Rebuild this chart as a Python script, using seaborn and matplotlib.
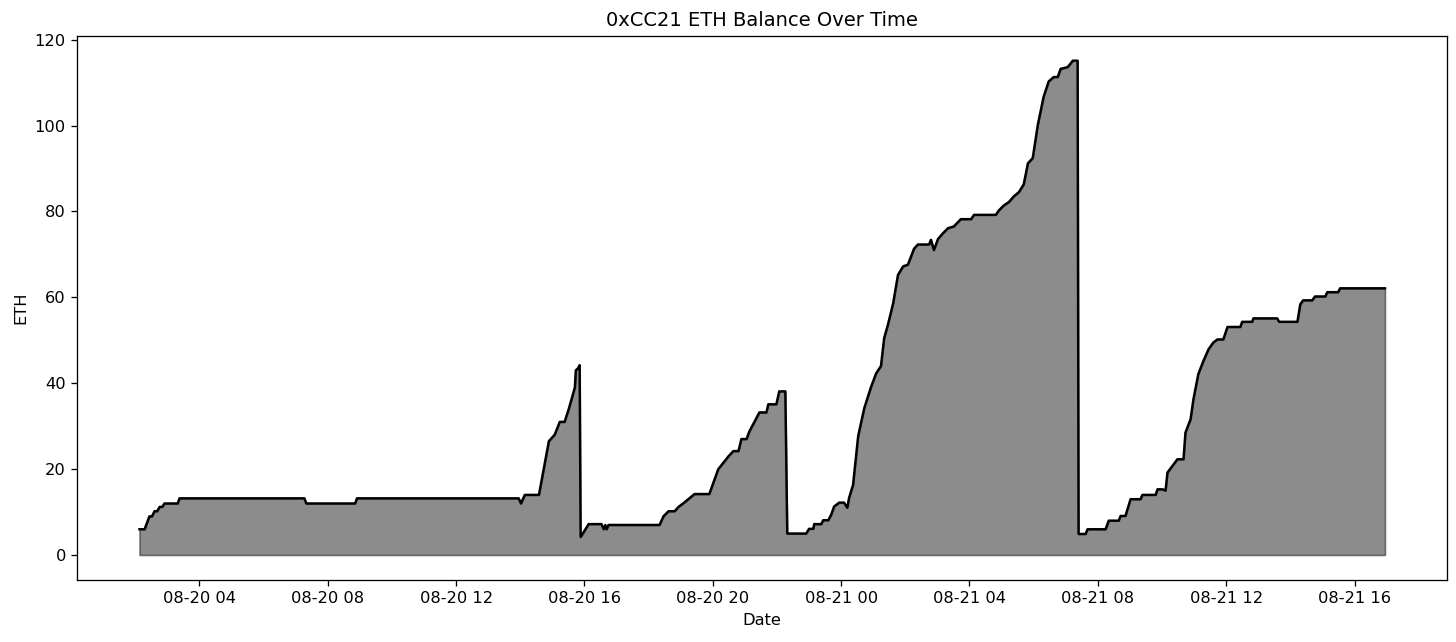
# Recreate the 0xCC21 ETH balance chart.
import pandas as pd
import matplotlib.pyplot as plt
import matplotlib.dates as mdates
import seaborn as sns

# Hours since 08-20 00:00 and the balance read at each point.
hours = [
    2.13, 2.29, 2.44, 2.52, 2.60, 2.68, 2.76, 2.84, 2.91, 3.32, 3.38, 7.27, 7.33, 8.85, 8.91,
    13.95, 14.02, 14.14, 14.58, 14.73, 14.89, 15.07, 15.23, 15.38, 15.51, 15.70, 15.73, 15.80,
    15.85, 15.88,
    16.13, 16.53, 16.60, 16.65, 16.69, 16.75, 18.34, 18.46, 18.62, 18.81, 18.93, 19.09, 19.27,
    19.43, 19.89, 20.17, 20.49, 20.64, 20.80, 20.89, 21.05, 21.14, 21.29, 21.45, 21.67, 21.73,
    21.98, 22.07, 22.26, 22.32,
    22.91, 23.00, 23.13, 23.16, 23.38, 23.44, 23.60, 23.69, 23.78, 23.94, 24.09, 24.19, 24.25,
    24.37, 24.53, 24.72, 24.93, 25.09, 25.24, 25.34, 25.46, 25.62, 25.77, 25.93, 26.08, 26.27,
    26.39, 26.74, 26.80, 26.89, 27.02, 27.17, 27.33, 27.51, 27.73, 28.05, 28.14, 28.82, 28.91,
    29.07, 29.23, 29.38, 29.54, 29.69, 29.82, 29.97, 30.13, 30.31, 30.47, 30.63, 30.75, 30.84,
    31.06, 31.22, 31.37, 31.40,
    31.62, 31.68, 32.24, 32.34, 32.65, 32.71, 32.86, 33.02, 33.33, 33.39, 33.80, 33.86, 34.02,
    34.11, 34.17, 34.33, 34.48, 34.67, 34.73, 34.89, 34.98, 35.13, 35.29, 35.45, 35.60, 35.73,
    35.91, 36.04, 36.44, 36.50, 36.81, 36.85, 37.59, 37.65, 38.22, 38.31, 38.40, 38.68, 38.77,
    39.09, 39.15, 39.49, 39.55, 40.95,
]
eth = [
    6.0, 6.0, 9.0, 9.0, 10.2, 10.2, 11.2, 11.2, 12.0, 12.0, 13.2, 13.2, 12.0, 12.0, 13.2,
    13.2, 12.0, 14.0, 14.0, 20.0, 26.5, 28.0, 31.0, 31.0, 34.0, 39.0, 43.0, 43.5,
    44.2, 4.2,
    7.2, 7.2, 6.0, 7.0, 6.0, 7.0, 7.0, 9.0, 10.2, 10.2, 11.2, 12.1, 13.2,
    14.2, 14.2, 20.0, 23.0, 24.2, 24.2, 27.0, 27.0, 28.8, 30.9, 33.2, 33.2, 35.1,
    35.1, 38.1, 38.1, 5.0,
    5.0, 6.1, 6.1, 7.2, 7.2, 8.1, 8.1, 9.4, 11.3, 12.2, 12.2, 11.0, 13.4,
    16.3, 27.7, 34.2, 39.1, 42.3, 44.0, 50.5, 53.7, 58.6, 65.2, 67.2, 67.6, 71.3,
    72.3, 72.3, 73.4, 71.0, 73.6, 74.9, 76.1, 76.5, 78.2, 78.2, 79.2, 79.2, 80.2,
    81.4, 82.2, 83.5, 84.5, 86.3, 91.2, 92.4, 100.2, 106.7, 110.3, 111.3, 111.3, 113.2,
    113.6, 115.1, 115.1, 4.9,
    4.9, 6.0, 6.0, 8.0, 8.0, 9.1, 9.1, 13.0, 13.0, 14.0, 14.0, 15.3, 15.3,
    15.0, 19.2, 20.8, 22.3, 22.3, 28.5, 31.6, 36.3, 42.1, 45.2, 47.9, 49.5, 50.2,
    50.2, 53.1, 53.1, 54.3, 54.3, 55.1, 55.1, 54.3, 54.3, 58.4, 59.3, 59.3, 60.2,
    60.2, 61.2, 61.2, 62.1, 62.1,
]

df = pd.DataFrame({
    "Date": pd.Timestamp("2023-08-20") + pd.to_timedelta(hours, unit="h"),
    "ETH": eth,
})

fig, ax = plt.subplots(figsize=(1456 / 117, 642 / 117), dpi=117)
fig.subplots_adjust(left=0.053, right=0.994, top=0.944, bottom=0.097)

# Filled area under the balance, then the balance line on top.
ax.fill_between(df["Date"], df["ETH"], color="black", alpha=0.45)
sns.lineplot(data=df, x="Date", y="ETH", color="black", linewidth=1.5, ax=ax)

ax.xaxis.set_major_locator(mdates.HourLocator(byhour=range(0, 24, 4)))
ax.xaxis.set_major_formatter(mdates.DateFormatter("%m-%d %H"))

ax.set_title("0xCC21 ETH Balance Over Time")
ax.set_xlabel("Date")
ax.set_ylabel("ETH")

plt.savefig("out.png", dpi=117)
